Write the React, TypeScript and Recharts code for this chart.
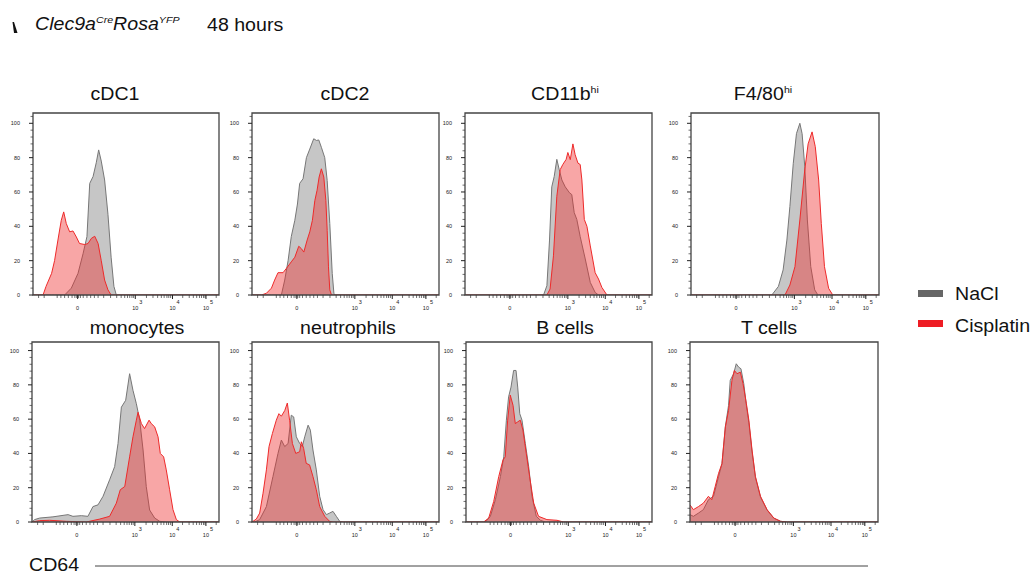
import React from 'react';
import { AreaChart, Area, XAxis, YAxis, ReferenceArea } from 'recharts';

type Pt = [number, number];

// x axis is in display units 0..100 of a biexponential CD64 scale
const xMajorTicks = [24, 55, 75, 93];
const xMajorBase = ['0', '10', '10', '10'];
const xMajorExp = ['', '3', '4', '5'];
const xMinorTicks = [3, 6, 13, 15, 17, 19, 21, 22.5, 23.5, 24.5, 25.5, 27, 29, 31, 33, 35, 38, 41.7, 45, 47.4, 49.3, 50.8, 52, 53.2, 54.1, 61, 64.5, 67, 69, 70.5, 72, 73, 74, 80.5, 84, 86.2, 88, 89.5, 90.6, 91.7, 92.5, 98.5];
const yMajorTicks = [0, 20, 40, 60, 80, 100];
const yMinorTicks = [4, 8, 12, 16, 24, 28, 32, 36, 44, 48, 52, 56, 64, 68, 72, 76, 84, 88, 92, 96, 104];

const seriesNames = ['NaCl', 'Cisplatin'];

const cdc1Nacl: Pt[] = [[17, 0], [20.6, 4], [24.2, 12.6], [26.9, 24], [29, 34], [30.5, 65], [32.3, 69], [34, 77], [35.3, 84.5], [36.7, 78], [38.5, 67], [40.3, 47], [42, 22], [43.5, 5], [44.8, 0]];
const cdc1Cis: Pt[] = [[5.4, 0], [7, 5], [10, 12.6], [11.6, 20], [13.4, 32], [15.2, 43.5], [16.5, 48.4], [17.9, 41.6], [19.7, 36.8], [21.5, 37.3], [23.3, 33.8], [25, 30], [27.8, 29.4], [29.6, 30], [31.4, 33], [33.2, 34.2], [35, 30], [36.7, 20], [38.5, 8.7], [40.3, 3], [42, 0]];

const cdc2Nacl: Pt[] = [[15.7, 0], [17.5, 8.7], [19.3, 20], [21, 34], [22.9, 43.5], [24.3, 53], [25.5, 65], [27.3, 67.7], [29.1, 80], [30.9, 85], [33, 91], [34.5, 90], [35.7, 90.3], [37.1, 86], [38.9, 80], [40.2, 66.7], [41.6, 41.6], [42.9, 12.6], [43.8, 1], [44.3, 0]];
const cdc2Cis: Pt[] = [[5, 0], [7.7, 1], [10.4, 4], [12.1, 8.7], [13.9, 13], [16.6, 13], [18.4, 15.5], [21, 19.3], [22.9, 22], [25, 28.4], [26.4, 27], [27.7, 25], [29.5, 32], [30.9, 36.8], [32.3, 43.5], [33.6, 55], [34.8, 61], [35.9, 68.7], [37.1, 73.5], [38.4, 68.7], [39.5, 55], [40.2, 37.7], [40.9, 16.4], [41.6, 3], [42.5, 0]];

const cd11bNacl: Pt[] = [[42, 0], [43.8, 5.4], [45.2, 32], [46.4, 63], [47.7, 69], [49.1, 79], [50.4, 73], [51.8, 67], [53.6, 63], [55.9, 59.5], [57.1, 58.5], [58.4, 48], [59.8, 44], [61.6, 34], [64.3, 21], [67, 7.3], [69.6, 1.5], [71.4, 0]];
const cd11bCis: Pt[] = [[43.8, 0], [45.5, 3.5], [47.3, 22.8], [49.1, 57.5], [50.9, 73], [52.3, 76], [54.1, 79], [55, 83], [56.3, 78.8], [57.7, 88], [58.9, 81.7], [60.4, 76.8], [61.6, 76], [62.5, 67], [63.8, 44], [65.2, 40], [67, 28.6], [69.6, 13], [71.4, 9.3], [73.2, 4.4], [75.9, 0]];

const f480Nacl: Pt[] = [[43, 0], [46.5, 5], [49, 14.6], [51, 32], [52.6, 51.5], [54.4, 76.7], [56.1, 94], [57.9, 100], [59.1, 94], [60.5, 75], [61.9, 43.7], [63.7, 16.5], [65.8, 3], [67.5, 0]];
const f480Cis: Pt[] = [[50, 0], [52.6, 5.8], [55.3, 16.5], [57.9, 43.7], [60.5, 72.8], [62.3, 88], [64.4, 95], [66.1, 86.4], [67.9, 67], [69.3, 41.7], [71, 16.5], [73.2, 3.9], [75.4, 0]];

const monoNacl: Pt[] = [[0, 0], [1.4, 1.4], [4.1, 2.3], [11.2, 3], [19.3, 4.3], [21.9, 3.3], [26.4, 3.7], [29.9, 3.3], [32.6, 9], [35.3, 10], [38, 15], [41.5, 24.6], [44.2, 32.3], [46, 45.8], [47.8, 67], [50.1, 71], [52.2, 86.5], [54, 76.8], [55.8, 69], [57.6, 59.4], [59.4, 42], [61.1, 20.7], [62.9, 7], [65.6, 2.3], [68.3, 0.4], [71.8, 0]];
const monoCis: Pt[] = [[0, 0], [4.1, 0.8], [9.4, 1], [18.4, 0.4], [29, 0], [36.2, 1.7], [41.5, 3.3], [45.1, 11], [47.2, 18.8], [49.6, 20.7], [52.2, 38], [54, 49.7], [55.8, 59.4], [56.7, 64], [58.5, 57.4], [60.2, 54.5], [62.6, 59.4], [63.8, 57.4], [65.6, 55.5], [67.4, 49.7], [68.6, 40], [70.4, 38], [71.8, 30.4], [73.6, 18.8], [75.4, 7.2], [77.2, 1.4], [79, 0]];

const neutNacl: Pt[] = [[1.4, 0], [4.1, 1.4], [7.7, 9], [11.2, 26.5], [13.9, 40], [15.7, 47.8], [17.5, 44], [19.3, 45.8], [21, 62.3], [22.3, 61.3], [23.7, 49.7], [25.5, 45.8], [26.9, 44], [28.2, 49.7], [30, 56.5], [31.2, 53.6], [32.6, 42], [34.4, 30.4], [36.2, 15], [38, 7.2], [39.8, 4.3], [41.5, 5.2], [43.3, 6.2], [45.1, 3.3], [46.9, 0.4], [48.7, 0]];
const neutCis: Pt[] = [[0, 0], [2.3, 1.7], [4.1, 5.2], [5.9, 16.8], [7.7, 30.4], [9.1, 44], [10.9, 51.6], [13, 59.4], [14.4, 63.2], [15.7, 61.7], [17.5, 65], [18.9, 69.4], [20.1, 59.4], [21.6, 45.8], [23.4, 40], [25.5, 41], [26.4, 46.8], [27.6, 43], [29, 34.2], [30.8, 33.3], [32.6, 26.5], [34.4, 18.8], [36.2, 9], [38.9, 3.3], [41.5, 0.4], [43.3, 0]];

const bNacl: Pt[] = [[10.4, 0], [13.1, 3.3], [15.8, 13], [18.5, 26.5], [20.3, 38], [21.7, 59.4], [22.9, 73], [24.2, 78.7], [25.6, 88.4], [26.9, 88.4], [27.8, 78.7], [28.9, 63.2], [30.1, 59.4], [31.9, 45.8], [33.7, 32.3], [35.5, 15], [37.8, 3.3], [40, 1], [42.7, 0]];
const bCis: Pt[] = [[9.5, 0], [12.2, 2.3], [14.9, 12], [17.6, 26.5], [19.9, 36.2], [21.1, 38], [22.4, 59.4], [23.8, 74], [25.3, 68], [26.5, 57.4], [27.8, 58.4], [29.2, 59.4], [30.6, 53.6], [32.4, 40], [34.2, 26.5], [36.4, 11], [39, 3.3], [43.5, 1.4], [48.9, 1], [52.5, 0]];

const tNacl: Pt[] = [[0, 4.3], [1.8, 3.3], [4.5, 5.2], [7.1, 7.2], [9.8, 13], [12.5, 15], [15.2, 26.5], [17, 34], [18.8, 55.5], [20.5, 68], [21.4, 82.6], [23.2, 86.5], [24.6, 92.3], [25.9, 90.3], [27.1, 89.4], [28.6, 80.7], [30, 68], [31.3, 58], [33, 41], [34.8, 26], [37.5, 14.5], [41, 7], [44.6, 2.2], [48.2, 0.4], [51.8, 0]];
const tCis: Pt[] = [[0, 10], [1.8, 7.2], [4.5, 9], [7.1, 11], [9.8, 15], [11.6, 13], [13.4, 20.7], [15.2, 28.4], [17, 34], [18.8, 55.5], [20.5, 65], [22.3, 82.6], [23.6, 88.4], [25, 86.5], [26.8, 87.4], [28.2, 80.7], [30, 69], [31.3, 59.4], [33, 42], [34.8, 26.5], [37.5, 15], [41, 7.2], [44.6, 2.3], [48.2, 0.4], [51.8, 0]];

const FONT = '"Liberation Sans", Arial, sans-serif';
const GRAY_FILL = '#c6c6c6';
const GRAY_LINE = '#777777';
const RED = '#ee2a2a';

function valueAt(pts: Pt[], x: number): number | null {
  if (x < pts[0][0] || x > pts[pts.length - 1][0]) return 0;
  const hit = pts.find((p) => p[0] === x);
  return hit ? hit[1] : null;
}

function buildRows(nacl: Pt[], cis: Pt[]) {
  const xs = Array.from(new Set([0, 100, ...nacl.map((p) => p[0]), ...cis.map((p) => p[0])])).sort((a, b) => a - b);
  return xs.map((x) => ({ x, nacl: valueAt(nacl, x), cis: valueAt(cis, x) }));
}

const XTick = (props: any) => {
  const { x, y, payload } = props;
  const i = xMajorTicks.indexOf(payload.value);
  if (i < 0) return <line x1={x} x2={x} y1={y} y2={y + 3} stroke="#333" strokeWidth={0.7} />;
  return (
    <g>
      <line x1={x} x2={x} y1={y} y2={y + 4} stroke="#222" strokeWidth={1} />
      <text x={x} y={y + 15} fontSize={5.5} textAnchor="middle" fill="#222" fontFamily={FONT}>{xMajorBase[i]}</text>
      {xMajorExp[i] && (
        <text x={x + 4} y={y + 9} fontSize={5.5} fill="#222" fontFamily={FONT}>{xMajorExp[i]}</text>
      )}
    </g>
  );
};

const YTick = (props: any) => {
  const { x, y, payload } = props;
  const major = yMajorTicks.includes(payload.value);
  if (!major) return <line x1={x - 2.5} x2={x} y1={y} y2={y} stroke="#333" strokeWidth={0.7} />;
  return (
    <g>
      <line x1={x - 4} x2={x} y1={y} y2={y} stroke="#222" strokeWidth={1} />
      <text x={x - 13} y={y + 2} fontSize={5.5} textAnchor="end" fill="#222" fontFamily={FONT}>{payload.value}</text>
    </g>
  );
};

interface PanelProps {
  nacl: Pt[];
  cis: Pt[];
  left: number;
  top: number;
  w: number;
  h: number;
  yMax: number;
}

function Panel({ nacl, cis, left, top, w, h, yMax }: PanelProps) {
  const rows = buildRows(nacl, cis);
  const padL = 32;
  const padT = 2;
  const padB = 20;
  return (
    <div style={{ position: 'absolute', left: left - padL, top: top - padT }}>
      <AreaChart width={w + padL + 4} height={h + padT + padB} data={rows} margin={{ top: padT, right: 4, left: 0, bottom: 0 }}>
        <XAxis
          dataKey="x"
          type="number"
          domain={[0, 100]}
          ticks={[...xMinorTicks, ...xMajorTicks].sort((a, b) => a - b)}
          interval={0}
          tick={XTick}
          tickLine={false}
          axisLine={false}
          tickSize={0}
          tickMargin={0}
          height={padB}
          allowDataOverflow
        />
        <YAxis
          type="number"
          domain={[0, yMax]}
          ticks={[...yMinorTicks, ...yMajorTicks].sort((a, b) => a - b)}
          interval={0}
          tick={YTick}
          tickLine={false}
          axisLine={false}
          tickSize={0}
          tickMargin={0}
          width={padL}
          allowDataOverflow
        />
        <Area
          type="linear"
          dataKey="nacl"
          name={seriesNames[0]}
          stroke={GRAY_LINE}
          strokeWidth={1}
          fill={GRAY_FILL}
          fillOpacity={1}
          connectNulls
          dot={false}
          activeDot={false}
          isAnimationActive={false}
        />
        <Area
          type="linear"
          dataKey="cis"
          name={seriesNames[1]}
          stroke={RED}
          strokeWidth={1}
          fill={RED}
          fillOpacity={0.42}
          connectNulls
          dot={false}
          activeDot={false}
          isAnimationActive={false}
        />
        <ReferenceArea x1={0} x2={100} y1={0} y2={yMax} fill="none" stroke="#444" strokeWidth={1.3} ifOverflow="visible" />
      </AreaChart>
    </div>
  );
}

const panels = [
  { title: 'cDC1', sup: '', nacl: cdc1Nacl, cis: cdc1Cis, left: 33, top: 113, w: 186, h: 182, yMax: 106, tx: 115, ty: 100 },
  { title: 'cDC2', sup: '', nacl: cdc2Nacl, cis: cdc2Cis, left: 252, top: 113, w: 187, h: 182, yMax: 106, tx: 345, ty: 100 },
  { title: 'CD11b', sup: 'hi', nacl: cd11bNacl, cis: cd11bCis, left: 465, top: 113, w: 187, h: 182, yMax: 106, tx: 565, ty: 100 },
  { title: 'F4/80', sup: 'hi', nacl: f480Nacl, cis: f480Cis, left: 691, top: 113, w: 188, h: 182, yMax: 106, tx: 763, ty: 100 },
  { title: 'monocytes', sup: '', nacl: monoNacl, cis: monoCis, left: 32, top: 342, w: 187, h: 180, yMax: 105, tx: 137, ty: 334 },
  { title: 'neutrophils', sup: '', nacl: neutNacl, cis: neutCis, left: 252, top: 342, w: 187, h: 180, yMax: 105, tx: 348, ty: 334 },
  { title: 'B cells', sup: '', nacl: bNacl, cis: bCis, left: 466, top: 342, w: 186, h: 180, yMax: 105, tx: 565, ty: 334 },
  { title: 'T cells', sup: '', nacl: tNacl, cis: tCis, left: 690, top: 342, w: 188, h: 180, yMax: 105, tx: 769, ty: 334 },
];

// text in the source figure is a little stretched sideways
const stretch = (x: number, y: number) => `translate(${x},${y}) scale(1.12,1)`;

export default function App() {
  return (
    <div style={{ position: 'absolute', left: 0, top: 0, width: 1033, height: 574, background: '#fff', overflow: 'hidden', fontFamily: FONT }}>
      {panels.map((p) => (
        <Panel key={p.title} nacl={p.nacl} cis={p.cis} left={p.left} top={p.top} w={p.w} h={p.h} yMax={p.yMax} />
      ))}
      <svg width={1033} height={574} style={{ position: 'absolute', left: 0, top: 0, pointerEvents: 'none' }} fontFamily={FONT}>
        <path d="M12.5,22 L14,22 L17.5,33 L14,33 Z" fill="#111" />
        <text transform={stretch(35, 30)} fontSize={17.5} fontStyle="italic" fill="#111">
          Clec9a<tspan fontSize={9.5} dy={-7}>Cre</tspan>
          <tspan dy={7}>Rosa</tspan>
          <tspan fontSize={9.5} dy={-7}>YFP</tspan>
        </text>
        <text transform={stretch(207, 31)} fontSize={17.5} fill="#111">48 hours</text>
        {panels.map((p) => (
          <text key={p.title} transform={stretch(p.tx, p.ty)} fontSize={17.5} textAnchor="middle" fill="#111">
            {p.title}
            {p.sup && <tspan fontSize={9.5} dy={-7}>{p.sup}</tspan>}
          </text>
        ))}
        <rect x={918} y={290} width={25} height={7} fill="#666" />
        <text transform={stretch(955, 300)} fontSize={17.5} fill="#111">{seriesNames[0]}</text>
        <rect x={918} y={320} width={25} height={7} fill="#ee1c24" />
        <text transform={stretch(955, 332)} fontSize={17.5} fill="#111">{seriesNames[1]}</text>
        <text transform={stretch(29, 571)} fontSize={17.5} fill="#111">CD64</text>
        <line x1={95} x2={868} y1={566} y2={566} stroke="#444" strokeWidth={1} />
      </svg>
    </div>
  );
}
